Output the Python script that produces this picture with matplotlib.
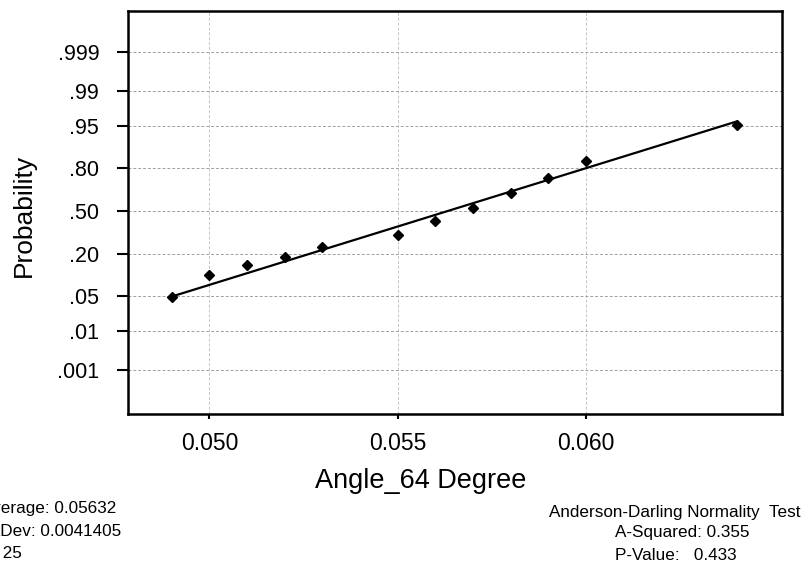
from statistics import NormalDist

import numpy as np
import matplotlib
matplotlib.use("Agg")
import matplotlib.pyplot as plt

plt.rcParams["font.family"] = ["Liberation Sans", "DejaVu Sans"]

# distinct angle readings and how many of the 25 samples landed on each
angle_values = [0.049, 0.050, 0.051, 0.052, 0.053, 0.055, 0.056, 0.057, 0.058, 0.059, 0.060, 0.064]
angle_counts = [2, 1, 1, 1, 2, 2, 3, 2, 4, 1, 4, 2]

prob_ticks  = [0.001, 0.01, 0.05, 0.20, 0.50, 0.80, 0.95, 0.99, 0.999]
prob_labels = [".001", ".01", ".05", ".20", ".50", ".80", ".95", ".99", ".999"]
x_ticks     = [0.050, 0.055, 0.060]
x_labels    = ["0.050", "0.055", "0.060"]

mean_angle = 0.05632
sd_angle   = 0.0041405
n_samples  = 25
a_squared  = 0.355
p_value    = 0.433

W, H = 807, 567


def fig_xy(x, y):
    # pixel position (origin top-left) -> figure fraction
    return x / W, 1 - y / H


norm = NormalDist()

# plotting positions: average rank of each tied group, Benard median ranks
counts = np.array(angle_counts)
avg_rank = np.cumsum(counts) - (counts - 1) / 2
p_plot = (avg_rank - 0.3) / (n_samples + 0.4)
z_plot = np.array([norm.inv_cdf(p) for p in p_plot])

# least-squares line of angle on normal score, one weight per observation
x_obs = np.repeat(angle_values, counts)
z_obs = np.repeat(z_plot, counts)
slope, intercept = np.polyfit(z_obs, x_obs, 1)
x_fit = np.array([min(angle_values), max(angle_values)])
z_fit = (x_fit - intercept) / slope

fig = plt.figure(figsize=(W / 100, H / 100), dpi=100)
ax = fig.add_axes([128.3 / W, 1 - 414 / H, 653.4 / W, 403 / H])

ax.plot(x_fit, z_fit, color="black", linewidth=1.6, zorder=3)
ax.plot(angle_values, z_plot, linestyle="none", marker="D", markersize=5,
        color="black", zorder=4)

ax.set_xlim(0.04785, 0.06519)
ax.set_ylim(-3.94, 3.88)
ax.set_xticks(x_ticks)
ax.set_xticklabels(x_labels)
ax.set_yticks([norm.inv_cdf(p) for p in prob_ticks])
ax.set_yticklabels(prob_labels)

ax.grid(True, axis="y", color="#a0a0a0", linestyle=(0, (3, 2)), linewidth=0.7)
ax.grid(True, axis="x", color="#c4c4c4", linestyle=(0, (3, 2)), linewidth=0.7)
ax.set_axisbelow(True)
for side in ax.spines.values():
    side.set_linewidth(1.8)
ax.tick_params(axis="y", length=8, width=1.5, pad=13, labelsize=15.5)
ax.tick_params(axis="x", length=3.6, width=1.5, pad=9, labelsize=16.5)

fig.text(*fig_xy(24, 215), "Probability", rotation=90, fontsize=19,
         ha="center", va="center")
fig.text(*fig_xy(421, 480.5), "Angle_64 Degree", fontsize=19.5,
         ha="center", va="center")

# summary statistics (left) and normality test (right)
fig.text(*fig_xy(-19, 509), f"Average: {mean_angle:.5f}", fontsize=12.3, va="center")
fig.text(*fig_xy(-16, 531), f"StDev: {sd_angle:.7f}", fontsize=12.3, va="center")
fig.text(*fig_xy(-19, 554), f"N: {n_samples}", fontsize=12.3, va="center")

fig.text(*fig_xy(549, 512), "Anderson-Darling Normality  Test", fontsize=12.3, va="center")
fig.text(*fig_xy(615, 532), f"A-Squared: {a_squared:.3f}", fontsize=12.3, va="center")
fig.text(*fig_xy(615, 555), f"P-Value:   {p_value:.3f}", fontsize=12.3, va="center")

fig.savefig("out.png", dpi=100)
